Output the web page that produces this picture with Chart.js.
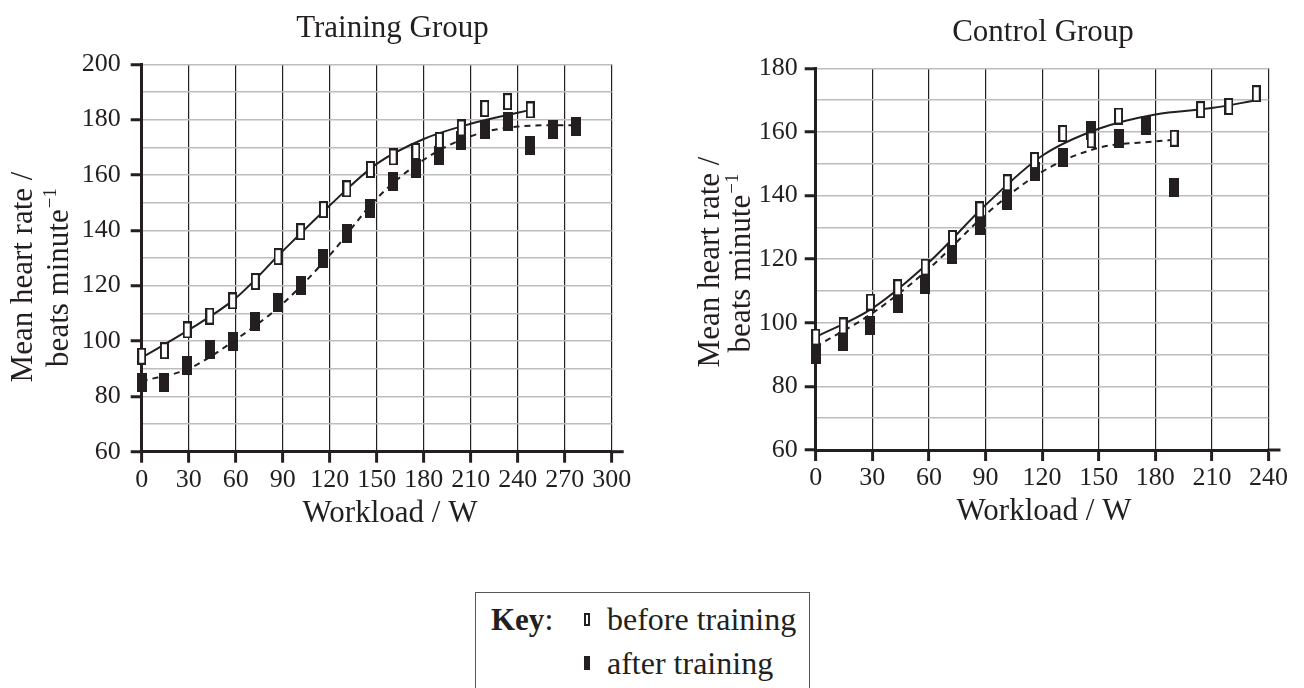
<!DOCTYPE html>
<html>
<head>
<meta charset="utf-8">
<script src="https://cdn.jsdelivr.net/npm/chart.js@4.4.1/dist/chart.umd.min.js"></script>
<style>
  body { margin: 0; background: #fff; width: 1304px; height: 688px; overflow: hidden; position: relative;
         font-family: "Liberation Serif", "Times New Roman", serif; color: #231f20; }
  #trainingChart { position: absolute; left: 0; top: 0; }
  #controlChart { position: absolute; left: 660px; top: 0; }
  .key { position: absolute; left: 475px; top: 592px; width: 335px; height: 120px;
         border: 1.5px solid #555; box-sizing: border-box; }
  .key span { position: absolute; font-size: 32px; line-height: 32px; white-space: nowrap; }
  .key .mk { position: absolute; box-sizing: border-box; width: 6px; }
</style>
</head>
<body>
<canvas id="trainingChart" width="650" height="560"></canvas>
<canvas id="controlChart" width="644" height="560"></canvas>

<div class="key">
  <span style="left:15px; top:10px;"><b style="font-size:31px">Key</b>:</span>
  <div class="mk" style="left:107.5px; top:20px; height:13px; border:2px solid #231f20; background:#fff;"></div>
  <span style="left:131px; top:10px;">before training</span>
  <div class="mk" style="left:107.5px; top:63px; height:14px; background:#231f20;"></div>
  <span style="left:131px; top:54px;">after training</span>
</div>

<script>
// workload steps shared by both groups (W)
const workload = [0, 14.5, 29, 43.5, 58, 72.5, 87, 101.5, 116, 131, 146, 160.5, 175, 190, 204, 219, 233.5, 248, 262.5, 277.5];

// Training group, mean heart rate (beats per minute)
const trainingBefore = [94.5, 96.5, 104, 109, 114.5, 121.5, 130.5, 139.5, 147.5, 155, 162, 166.5, 168.5, 172.5, 177, 184, 186.5, 183.5];
const trainingAfter = [85, 85, 91, 97, 100, 107, 114, 120, 130, 139, 148, 157.5, 162.5, 167, 172.5, 176.5, 179.5, 170.5, 176.5, 177.5];

// Control group (no open point recorded at 175 W)
const controlBefore = [95.5, 99, 106.5, 111, 117.5, 126.5, 135.5, 144, 151, 159.5, 157.5, 165, null, 158, 167, 168, 172];
const controlAfter = [90, 94, 99, 106, 112, 121.5, 130.5, 138.5, 147.5, 152, 160.5, 158, 162, 142.5];

// fitted trend lines
const trainingBeforeFitX = [0, 30, 60, 90, 120, 150, 180, 210, 240, 248];
const trainingBeforeFitY = [94, 104, 115.5, 132.5, 149, 164, 173, 178.5, 182.5, 183.5];
const trainingAfterFitX = [0, 30, 60, 90, 120, 150, 180, 210, 240, 270, 278];
const trainingAfterFitY = [85.5, 90, 100.5, 113.5, 131, 151.5, 165.5, 174, 177.5, 178, 178];
const controlBeforeFitX = [0, 30, 60, 90, 120, 150, 180, 210, 234];
const controlBeforeFitY = [95.5, 104.5, 119, 137, 152.5, 161, 165.5, 167.5, 170];
const controlAfterFitX = [0, 30, 60, 90, 120, 150, 180, 190];
const controlAfterFitY = [92.5, 103, 117, 134, 147.5, 155, 157, 157.5];

const INK = '#231f20';
const FONT = '"Liberation Serif", "Times New Roman", serif';

function makeMarker(w, h, filled) {
    const c = document.createElement('canvas');
    c.width = w;
    c.height = h;
    const g = c.getContext('2d');
    g.fillStyle = INK;
    g.fillRect(0, 0, w, h);
    if (!filled) {
        g.fillStyle = '#fff';
        g.fillRect(2, 2, w - 4, h - 4);
    }
    return c;
}
const openMarker = makeMarker(9, 17, false);
const filledMarker = makeMarker(10, 19, true);

function pairs(xs, ys) {
    return ys.map((y, i) => ({ x: xs[i], y: y })).filter(p => p.y !== null);
}

// titles, rotated y title with superscript, and the overshoot of the x axis line
function textPlugin(cfg) {
    return {
        id: 'groupText',
        afterDraw(chart) {
            const ctx = chart.ctx;
            const area = chart.chartArea;
            ctx.save();
            ctx.fillStyle = INK;
            ctx.textBaseline = 'alphabetic';
            ctx.textAlign = 'center';
            ctx.font = '31px ' + FONT;
            ctx.fillText(cfg.title, cfg.titlePos[0], cfg.titlePos[1]);
            ctx.fillText('Workload / W', cfg.xTitlePos[0], cfg.xTitlePos[1]);

            // y title, two lines
            ctx.save();
            ctx.translate(cfg.yLine1[0], cfg.yLine1[1]);
            ctx.rotate(-Math.PI / 2);
            ctx.fillText('Mean heart rate /', 0, 0);
            ctx.restore();

            ctx.save();
            ctx.translate(cfg.yLine2[0], cfg.yLine2[1]);
            ctx.rotate(-Math.PI / 2);
            ctx.textAlign = 'left';
            const main = 'beats minute';
            const sup = '\u22121';
            ctx.font = '31px ' + FONT;
            const w1 = ctx.measureText(main).width;
            ctx.font = '19px ' + FONT;
            const w2 = ctx.measureText(sup).width;
            const start = -(w1 + w2) / 2;
            ctx.font = '31px ' + FONT;
            ctx.fillText(main, start, 0);
            ctx.font = '19px ' + FONT;
            ctx.fillText(sup, start + w1 + 1, -12);
            ctx.restore();

            // x axis line runs a little past the last tick
            ctx.strokeStyle = INK;
            ctx.lineWidth = 3;
            ctx.beginPath();
            ctx.moveTo(area.right - 1, area.bottom);
            ctx.lineTo(area.right + 12, area.bottom);
            ctx.stroke();
            ctx.restore();
        }
    };
}

function buildChart(id, cfg) {
    return new Chart(document.getElementById(id), {
        type: 'scatter',
        data: {
            datasets: [{
                label: 'before training',
                data: pairs(workload, cfg.before),
                pointStyle: openMarker,
                pointRadius: 8,
                showLine: false,
                clip: false
            }, {
                label: 'after training',
                data: pairs(workload, cfg.after),
                pointStyle: filledMarker,
                pointRadius: 8,
                showLine: false,
                clip: false
            }, {
                label: 'before fit',
                data: pairs(cfg.beforeFitX, cfg.beforeFitY),
                showLine: true,
                borderColor: INK,
                borderWidth: 2,
                pointRadius: 0,
                cubicInterpolationMode: 'monotone',
                clip: false
            }, {
                label: 'after fit',
                data: pairs(cfg.afterFitX, cfg.afterFitY),
                showLine: true,
                borderColor: INK,
                borderWidth: 2,
                borderDash: [6, 5],
                pointRadius: 0,
                cubicInterpolationMode: 'monotone',
                clip: false
            }]
        },
        options: {
            responsive: false,
            animation: false,
            events: [],
            layout: { padding: cfg.padding },
            plugins: { legend: { display: false }, tooltip: { enabled: false } },
            scales: {
                x: {
                    type: 'linear',
                    min: 0,
                    max: cfg.xMax,
                    afterFit: s => { s.height = cfg.xHeight; },
                    ticks: {
                        stepSize: 30, autoSkip: false, maxRotation: 0, padding: 2,
                        color: INK, font: { family: FONT, size: 26 }
                    },
                    grid: { color: INK, lineWidth: 1.2, tickColor: INK, tickWidth: 3, tickLength: 11 },
                    border: { color: INK, width: 3 }
                },
                y: {
                    min: 60,
                    max: cfg.yMax,
                    afterFit: s => { s.width = cfg.yWidth; },
                    ticks: {
                        stepSize: 10, autoSkip: false, padding: cfg.yPad,
                        color: INK, font: { family: FONT, size: 26 },
                        callback: v => (v % 20 === 0 ? v : '')
                    },
                    grid: {
                        color: '#bdbdbd',
                        lineWidth: 1.5,
                        tickColor: c => (c.tick && c.tick.value % 20 === 0 ? INK : 'rgba(0,0,0,0)'),
                        tickWidth: 3,
                        tickLength: 11
                    },
                    border: { color: INK, width: 3 }
                }
            }
        },
        plugins: [textPlugin(cfg)]
    });
}

buildChart('trainingChart', {
    before: trainingBefore,
    after: trainingAfter,
    beforeFitX: trainingBeforeFitX, beforeFitY: trainingBeforeFitY,
    afterFitX: trainingAfterFitX, afterFitY: trainingAfterFitY,
    xMax: 300, yMax: 200,
    padding: { left: 0, top: 64.3, right: 38.3, bottom: 0 },
    yWidth: 141.7, xHeight: 108.3, yPad: 10,
    title: 'Training Group', titlePos: [392.5, 37],
    xTitlePos: [390, 522],
    yLine1: [32, 277], yLine2: [68, 278]
});

buildChart('controlChart', {
    before: controlBefore,
    after: controlAfter,
    beforeFitX: controlBeforeFitX, beforeFitY: controlBeforeFitY,
    afterFitX: controlAfterFitX, afterFitY: controlAfterFitY,
    xMax: 240, yMax: 180,
    padding: { left: 0, top: 68.3, right: 35.5, bottom: 0 },
    yWidth: 155.7, xHeight: 110, yPad: 7,
    title: 'Control Group', titlePos: [383, 41],
    xTitlePos: [384, 520],
    yLine1: [59, 262], yLine2: [90, 263.5]
});
</script>
</body>
</html>
